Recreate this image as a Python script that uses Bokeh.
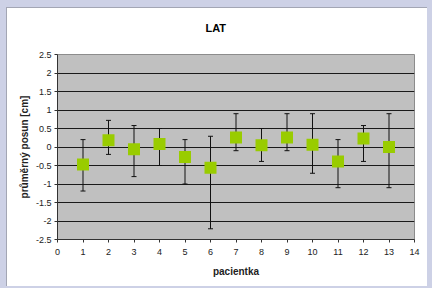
from bokeh.plotting import figure
from bokeh.models import (Range1d, FixedTicker, Whisker, ColumnDataSource, TeeHead)
from bokeh.embed import file_html
from bokeh.resources import INLINE

# ---- data ----
patients = [1, 2, 3, 4, 5, 6, 7, 8, 9, 10, 11, 12, 13]
means = [-0.47, 0.18, -0.06, 0.08, -0.27, -0.56, 0.26, 0.05, 0.26, 0.06, -0.39, 0.23, 0.0]
upper = [0.2, 0.72, 0.58, 0.5, 0.2, 0.29, 0.9, 0.5, 0.9, 0.9, 0.2, 0.58, 0.9]
lower = [-1.19, -0.2, -0.8, -0.5, -1.0, -2.21, -0.1, -0.39, -0.1, -0.71, -1.1, -0.39, -1.1]

x_ticks = [0, 1, 2, 3, 4, 5, 6, 7, 8, 9, 10, 11, 12, 13, 14]
x_tick_labels = ["0", "1", "2", "3", "4", "5", "6", "7", "8", "9", "10", "11", "12", "13", "14"]
y_ticks = [-2.5, -2.0, -1.5, -1.0, -0.5, 0.0, 0.5, 1.0, 1.5, 2.0, 2.5]
y_tick_labels = ["-2.5", "-2", "-1.5", "-1", "-0.5", "0", "0.5", "1", "1.5", "2", "2.5"]

title_text = "LAT"
x_label = "pacientka"
y_label = "průměrný posun [cm]"

FONT = "Liberation Sans"

src = ColumnDataSource(dict(x=patients, mean=means, upper=upper, lower=lower))

p = figure(width=432, height=288, output_backend="svg", toolbar_location=None,
           x_range=Range1d(0, 14), y_range=Range1d(-2.5, 2.5),
           min_border_left=57, min_border_right=18, min_border_top=54,
           min_border_bottom=49)

# white chart panel on a lavender slide background (CSS inset shadows)
p.border_fill_alpha = 0
p.styles = {
    "background-color": "white",
    "box-shadow": ("inset 6px 7px 0 0 #cdd1e6, inset -5px -2px 0 0 #cdd1e6, "
                   "inset 7px 8px 0 0 #a3a6b4"),
}
p.background_fill_color = "#c0c0c0"
p.outline_line_color = "#8c8c8c"

# title
p.title.text = title_text
p.title.align = "left"
p.title.offset = 148
p.title.vertical_align = "top"
p.title.standoff = 38
p.title.text_font = FONT
p.title.text_font_size = "11px"
p.title.text_font_style = "bold"
p.title.text_color = "black"

# grids
p.xgrid.visible = False
p.ygrid.ticker = FixedTicker(ticks=y_ticks)
p.ygrid.grid_line_color = "#1a1a1a"
p.ygrid.grid_line_width = 1

# axes
for ax in (p.xaxis[0], p.yaxis[0]):
    ax.axis_line_color = "#333333"
    ax.major_tick_line_color = "#333333"
    ax.minor_tick_line_color = None
    ax.major_tick_in = 0
    ax.major_tick_out = 3
    ax.major_label_text_font = FONT
    ax.major_label_text_font_size = "9px"
    ax.major_label_text_color = "#222222"
    ax.axis_label_text_font = FONT
    ax.axis_label_text_font_style = "bold"
    ax.axis_label_text_font_size = "10px"
    ax.axis_label_text_color = "#222222"

p.xaxis.ticker = FixedTicker(ticks=x_ticks)
p.xaxis.major_label_overrides = {t: s for t, s in zip(x_ticks, x_tick_labels)}
p.xaxis.axis_label = x_label
p.xaxis.major_label_standoff = 6
p.xaxis.axis_label_standoff = 8

p.yaxis.ticker = FixedTicker(ticks=y_ticks)
p.yaxis.major_label_overrides = {t: s for t, s in zip(y_ticks, y_tick_labels)}
p.yaxis.axis_label = y_label
p.yaxis.major_label_standoff = 3
p.yaxis.axis_label_standoff = 3

# error bars
wh = Whisker(base="x", upper="upper", lower="lower", source=src,
             line_color="#111111", line_width=1,
             upper_head=TeeHead(size=5, line_color="#111111", line_width=1),
             lower_head=TeeHead(size=5, line_color="#111111", line_width=1))
p.add_layout(wh)

p.scatter("x", "mean", source=src, marker="square", size=12,
          fill_color="#99cc00", line_color=None)

open("out.html", "w").write(file_html(p, INLINE))
